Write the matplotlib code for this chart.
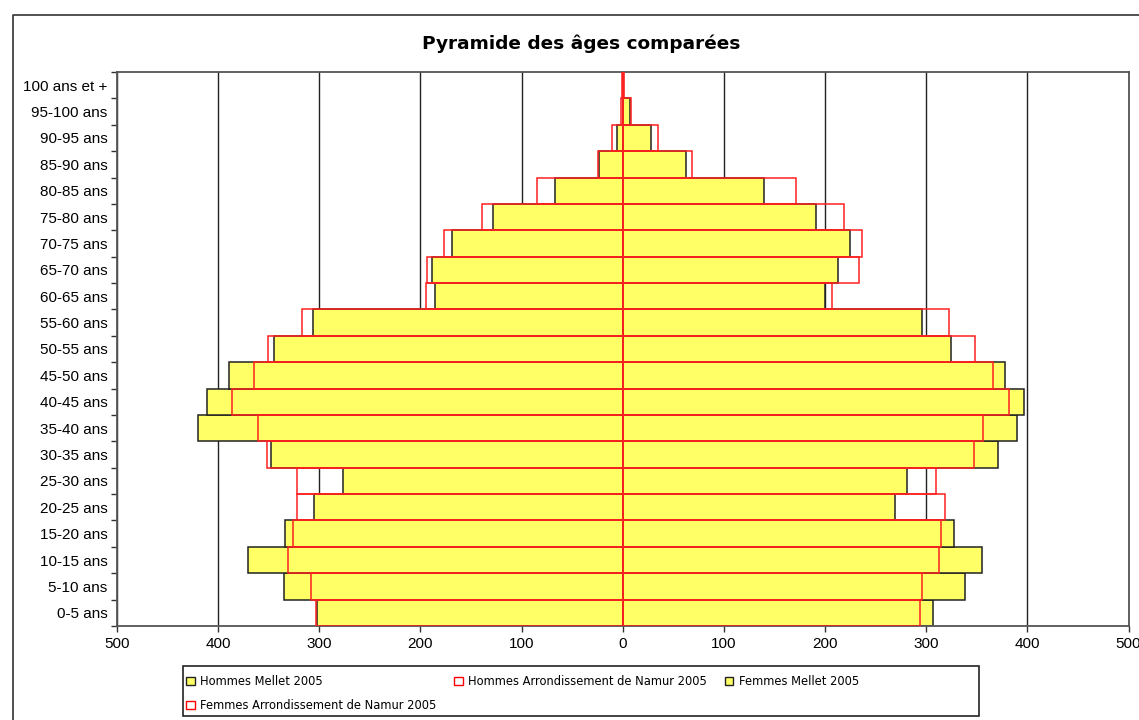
import numpy as np
import matplotlib
matplotlib.use('Agg')
import matplotlib.pyplot as plt
from matplotlib.lines import Line2D
from matplotlib.patches import Patch, Rectangle

## age groups, bottom to top
ages = ['0-5 ans', '5-10 ans', '10-15 ans', '15-20 ans', '20-25 ans', '25-30 ans',
        '30-35 ans', '35-40 ans', '40-45 ans', '45-50 ans', '50-55 ans', '55-60 ans',
        '60-65 ans', '65-70 ans', '70-75 ans', '75-80 ans', '80-85 ans', '85-90 ans',
        '90-95 ans', '95-100 ans', '100 ans et +']

hommes_mellet = [302, 335, 370, 334, 305, 277, 348, 420, 411, 389, 345, 306,
                 186, 189, 169, 128, 67, 23, 6, 0, 0]
hommes_namur = [303, 308, 331, 326, 322, 322, 352, 361, 386, 365, 351, 317,
                195, 194, 177, 139, 85, 24, 11, 2, 1]
femmes_mellet = [307, 338, 355, 327, 269, 281, 371, 390, 397, 378, 325, 296,
                 200, 213, 225, 191, 140, 63, 28, 7, 0]
femmes_namur = [294, 296, 313, 315, 319, 310, 347, 356, 382, 366, 348, 323,
                207, 234, 237, 219, 171, 68, 35, 8, 1]

xticks = [-500, -400, -300, -200, -100, 0, 100, 200, 300, 400, 500]

yellow = '#FFFF66'
dark = '#222222'

fig = plt.figure(figsize=(11.39, 7.2), dpi=100)
ax = fig.add_axes([117/1139, 1-626/720, 1011.5/1139, 554/720])

y = np.arange(len(ages))

# mellet bars (yellow) behind, namur bars (red outline) in front
ax.barh(y, -np.array(hommes_mellet), height=1.0, color=yellow, edgecolor=dark, linewidth=1.1, zorder=2)
ax.barh(y, femmes_mellet, height=1.0, color=yellow, edgecolor=dark, linewidth=1.1, zorder=2)
ax.barh(y, -np.array(hommes_namur), height=1.0, facecolor='none', edgecolor='#FF2020', linewidth=1.1, zorder=3)
ax.barh(y, femmes_namur, height=1.0, facecolor='none', edgecolor='#FF2020', linewidth=1.1, zorder=3)

ax.set_xlim(-500, 500)
ax.set_ylim(-0.5, len(ages) - 0.5)

ax.set_xticks(xticks)
ax.set_xticklabels([str(abs(v)) for v in xticks], fontfamily='Liberation Sans', fontsize=11)
ax.set_yticks(y)
ax.set_yticklabels(ages, fontfamily='Liberation Sans', fontsize=11)
ax.set_yticks(np.arange(len(ages) + 1) - 0.5, minor=True)
ax.tick_params(axis='y', which='major', length=0, pad=7)
ax.tick_params(axis='y', which='minor', length=4, width=1, color='#333333', direction='out')
ax.tick_params(axis='x', length=4, width=1, color='#333333', direction='out', pad=4)

ax.set_axisbelow(True)
ax.xaxis.grid(True, color='#222222', linewidth=1.0)
for s in ax.spines.values():
    s.set_color('#555555')
    s.set_linewidth(1.3)

fig.text(581/1139, 1-44/720, 'Pyramide des âges comparées', ha='center', va='center',
         fontsize=13.3, fontweight='bold')

# outer chart border
fig.add_artist(Line2D([13/1139, 13/1139, 1.01], [-0.01, 1-15/720, 1-15/720],
                      transform=fig.transFigure, color='#333333', linewidth=1.2))

# legend box
fig.add_artist(Rectangle((183/1139, 4/720), 796/1139, 50/720,
                         transform=fig.transFigure, facecolor='white',
                         edgecolor='#222222', linewidth=1.2, zorder=0))

# column-major order so rows read: HM, HN, FM / FN
handles = [Patch(facecolor=yellow, edgecolor=dark, linewidth=1.0),
           Patch(facecolor='white', edgecolor='red', linewidth=1.0),
           Patch(facecolor='white', edgecolor='red', linewidth=1.0),
           Patch(facecolor=yellow, edgecolor=dark, linewidth=1.0)]
labels = ['Hommes Mellet 2005', 'Femmes Arrondissement de Namur 2005',
          'Hommes Arrondissement de Namur 2005', 'Femmes Mellet 2005']
leg = fig.legend(handles, labels, ncol=3, loc='upper left',
                 bbox_to_anchor=(186/1139, 1-675/720),
                 fontsize=8.3, frameon=False,
                 handlelength=0.75, handleheight=0.75, handletextpad=0.5,
                 borderaxespad=0, borderpad=0.0, labelspacing=0.95, columnspacing=1.5)

plt.savefig('out.png', dpi=100)
